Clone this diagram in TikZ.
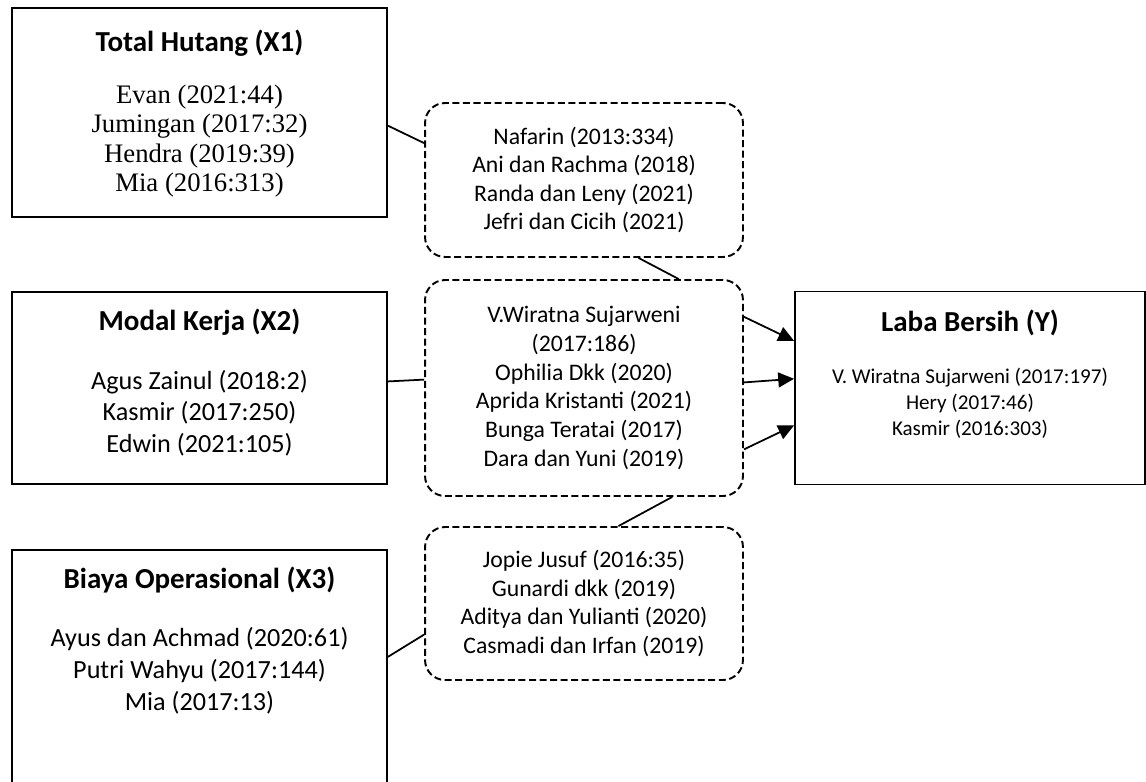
\documentclass[tikz,border=0pt]{standalone}
\usepackage{fontspec}
\setmainfont{Carlito}
\newfontfamily\timesfont{Liberation Serif}
\usetikzlibrary{arrows.meta}

\begin{document}
\begin{tikzpicture}[x=0.02cm,y=-0.02cm]
  \tikzset{V/.style={draw, line width=1.1pt, minimum width=7.5cm, inner sep=0pt}}
  \tikzset{T/.style={draw, line width=1.1pt, dash pattern=on 4pt off 2pt, rounded corners=0.4cm,
      minimum width=6.36cm, inner sep=0pt, align=center, font=\fontsize{13.5}{16.3}\selectfont}}
  \tikzset{H/.style={inner sep=0pt, font=\fontsize{16.5}{20}\selectfont\bfseries}}
  \tikzset{L/.style={inner sep=0pt, align=center, font=\fontsize{14.9}{17.9}\selectfont}}
  \tikzset{E/.style={line width=1pt}}
  \tikzset{A/.style={E, -{Triangle[length=9pt,width=8.5pt]}}}
  \useasboundingbox (0,0) rectangle (1146,781);
  \clip (0,0) rectangle (1146,781);

  % variables
  \node [V, minimum height=4.18cm] (x1) at (199.5,112.5) {};
  \node [H] (x1h) at (199.5,43) {Total Hutang (X1)};
  \node [L, font=\timesfont\fontsize{15.2}{16.7}\selectfont] (x1l) at (199.5,141)
    {Evan (2021:44)\\Jumingan (2017:32)\\Hendra (2019:39)\\Mia (2016:313)};
  \node [V, minimum height=3.84cm] (x2) at (199.5,388) {};
  \node [H] (x2h) at (199.5,322) {Modal Kerja (X2)};
  \node [L] (x2l) at (199.5,413) {Agus Zainul (2018:2)\\Kasmir (2017:250)\\Edwin (2021:105)};
  \node [V, minimum height=5.2cm] (x3) at (199.5,680) {};
  \node [H] (x3h) at (199.5,580) {Biaya Operasional (X3)};
  \node [L, font=\fontsize{14.9}{18.2}\selectfont] (x3l) at (199.5,671)
    {Ayus dan Achmad (2020:61)\\Putri Wahyu (2017:144)\\Mia (2017:13)};
  \node [V, minimum width=7cm, minimum height=3.86cm] (y) at (970,388) {};
  \node [H] (yh) at (970,323) {Laba Bersih (Y)};
  \node [L, font=\fontsize{12}{14.8}\selectfont] (yl) at (970,403)
    {V. Wiratna Sujarweni (2017:197)\\Hery (2017:46)\\Kasmir (2016:303)};

  % theories
  \node [T, minimum height=3.08cm] (ta) at (584,180)
    {Nafarin (2013:334)\\Ani dan Rachma (2018)\\Randa dan Leny (2021)\\Jefri dan Cicih (2021)};
  \node [T, minimum height=4.32cm] (tb) at (584,388)
    {V.Wiratna Sujarweni\\(2017:186)\\Ophilia Dkk (2020)\\Aprida Kristanti (2021)\\Bunga Teratai (2017)\\Dara dan Yuni (2019)};
  \node [T, minimum height=3.06cm] (tc) at (584,603.5)
    {Jopie Jusuf (2016:35)\\Gunardi dkk (2019)\\Aditya dan Yulianti (2020)\\Casmadi dan Irfan (2019)};

  \foreach \from/\to in {x1.-4.4/ta.167.6,ta.-55.5/tb.49.3,x2.2.4/tb.177.1,tb.-51.5/tc.66.7,x3.7.6/tc.-169.1}
    \draw[E] (\from) -- (\to);
  \foreach \from/\to in {tb.24.7/y.165.3,tb.2.9/y.177.4,tb.-21.9/y.-168.5}
    \draw[A] (\from) -- (\to);
\end{tikzpicture}
\end{document}
